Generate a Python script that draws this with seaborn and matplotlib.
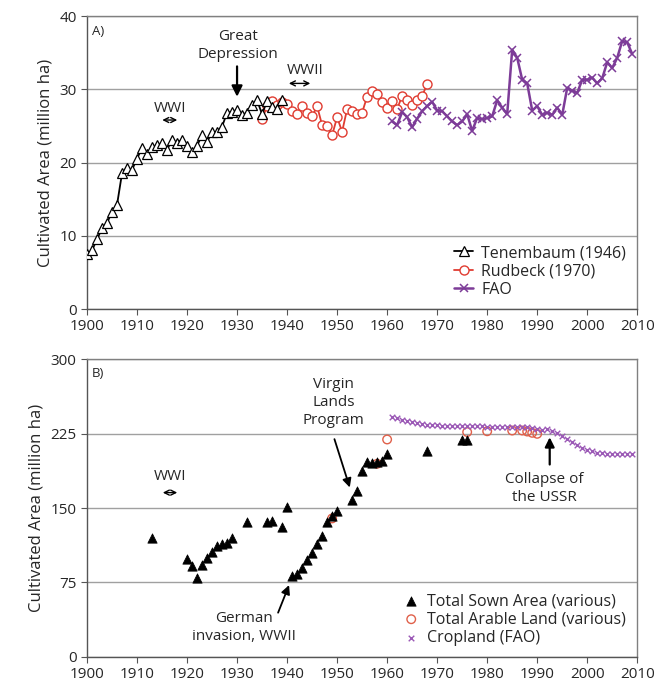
import numpy as np
import pandas as pd
import matplotlib
matplotlib.use("Agg")
import matplotlib.pyplot as plt
import seaborn as sns

# ---- Panel A data ----
ten_years = list(range(1900, 1940))
ten_vals = [7.5, 8.0, 9.5, 11.0, 11.7, 13.3, 14.2, 18.5, 19.3, 19.0,
            20.5, 22.0, 21.2, 22.1, 22.4, 22.6, 21.7, 23.1, 22.7, 23.1,
            22.3, 21.4, 22.3, 23.7, 22.8, 24.1, 24.2, 24.9, 26.8, 26.9,
            27.2, 26.5, 26.8, 27.8, 28.5, 26.6, 28.4, 27.6, 27.3, 28.6]

rud_years = list(range(1935, 1969))
rud_vals = [25.9, 27.7, 28.4, 27.8, 28.3, 28.0, 27.1, 26.6, 27.7, 26.8,
            26.3, 27.7, 25.1, 25.0, 23.7, 26.2, 24.2, 27.3, 27.1, 26.6,
            26.8, 29.0, 29.7, 29.3, 28.2, 27.5, 28.4, 27.3, 29.1, 28.6,
            27.8, 28.6, 29.1, 30.7]

fao_years = list(range(1961, 2010))
fao_vals = [25.6, 25.1, 26.9, 26.2, 24.8, 26.0, 27.0, 27.7, 28.3, 27.1,
            27.0, 26.3, 25.6, 25.1, 25.6, 26.6, 24.3, 26.1, 25.9, 26.1,
            26.3, 28.5, 27.5, 26.6, 35.4, 34.3, 31.3, 30.8, 27.1, 27.7,
            26.5, 26.8, 26.5, 27.5, 26.5, 30.2, 29.8, 29.5, 31.3, 31.3,
            31.6, 30.8, 31.5, 33.7, 32.9, 34.3, 36.6, 36.4, 34.8]

# ---- Panel B data ----
sown_years = [1913, 1920, 1921, 1922, 1923, 1924, 1925, 1926, 1927, 1928,
              1929, 1932, 1936, 1937, 1939, 1940, 1941, 1942, 1943, 1944,
              1945, 1946, 1947, 1948, 1949, 1950, 1953, 1954, 1955, 1956,
              1957, 1958, 1959, 1960, 1968, 1975, 1976]
sown_vals = [119.4, 98.5, 91.2, 79.1, 92.8, 99.2, 105.9, 112.0, 113.7, 114.4,
             119.4, 135.6, 135.6, 136.6, 131.1, 151.3, 81.4, 83.8, 89.9, 97.3,
             105.1, 113.6, 121.4, 135.6, 141.6, 147.3, 158.4, 167.5, 187.4, 196.1,
             195.4, 196.8, 197.1, 204.5, 207.8, 218.9, 218.9]

arable_years = [1949, 1958, 1960, 1976, 1980, 1985, 1987, 1988, 1989, 1990]
arable_vals = [139.5, 194.5, 219.0, 226.5, 227.3, 228.0, 228.0, 227.0, 225.7, 224.7]

crop_years = list(range(1961, 2010))
crop_vals = [241.5, 240.8, 238.8, 237.8, 236.5, 235.5, 234.5, 234.0, 233.5, 233.2,
             233.0, 233.0, 232.8, 232.8, 232.5, 232.5, 232.3, 232.3, 232.2, 232.0,
             232.0, 232.0, 232.0, 232.0, 232.0, 232.0, 232.0, 231.5, 230.5, 229.5,
             229.0, 229.5, 227.5, 225.5, 222.5, 219.5, 216.0, 213.0, 210.5, 208.5,
             207.0, 205.8, 205.0, 204.5, 204.3, 204.0, 204.0, 204.0, 204.0]

x_ticks = list(range(1900, 2011, 10))

sns.set_theme(style="white")
plt.rcParams['font.family'] = ['Open Sans', 'DejaVu Sans']

RED = '#e03c31'
PURPLE = '#7d3c98'
GRID = '#a0a0a0'

fig = plt.figure(figsize=(6.67, 6.87), dpi=100)
ax1 = fig.add_axes([0.1304, 0.5502, 0.825, 0.4265])
ax2 = fig.add_axes([0.1304, 0.0437, 0.825, 0.4337])

# ==========================
# Panel A
# ==========================
sns.lineplot(x=ten_years, y=ten_vals, ax=ax1, color='black', lw=1.3,
             marker='^', markersize=7, markerfacecolor='white',
             markeredgecolor='black', markeredgewidth=0.9,
             label='Tenembaum (1946)', zorder=3)
sns.lineplot(x=rud_years, y=rud_vals, ax=ax1, color=RED, lw=1.3,
             marker='o', markersize=6.5, markerfacecolor='white',
             markeredgecolor=RED, markeredgewidth=1.0,
             label='Rudbeck (1970)', zorder=2)
sns.lineplot(x=fao_years, y=fao_vals, ax=ax1, color=PURPLE, lw=1.8,
             marker='x', markersize=6, markeredgecolor=PURPLE,
             markeredgewidth=1.1, label='FAO', zorder=2)

ax1.set_xlim(1900, 2010)
ax1.set_ylim(0, 40)
ax1.set_yticks([0, 10, 20, 30, 40])
ax1.set_xticks(x_ticks)
ax1.set_ylabel("Cultivated Area (million ha)", fontsize=12)
ax1.set_xlabel("")

ax1.text(1901, 38.8, "A)", fontsize=9.5, va='top')
ax1.text(1930.2, 36.0, "Great\nDepression", ha='center', va='center',
         fontsize=11, linespacing=1.3)
ax1.annotate("", xy=(1930, 28.6), xytext=(1930, 33.5),
             arrowprops=dict(arrowstyle='-|>', color='black', lw=1.6,
                             mutation_scale=16))
ax1.text(1916.6, 27.4, "WWI", ha='center', va='center', fontsize=11)
ax1.annotate("", xy=(1914.5, 25.8), xytext=(1918.6, 25.8),
             arrowprops=dict(arrowstyle='<->', color='black', lw=1.0,
                             mutation_scale=9))
ax1.text(1943.7, 32.6, "WWII", ha='center', va='center', fontsize=11)
ax1.annotate("", xy=(1939.8, 30.8), xytext=(1945.2, 30.8),
             arrowprops=dict(arrowstyle='<->', color='black', lw=1.0,
                             mutation_scale=9))

ax1.legend(loc='lower right', frameon=False, fontsize=11.5,
           handlelength=1.2, handletextpad=0.5, borderaxespad=0.3,
           labelspacing=0.15)

# ==========================
# Panel B
# ==========================
sns.scatterplot(x=sown_years, y=sown_vals, ax=ax2, marker='^', s=45,
                color='black', edgecolor='black',
                label='Total Sown Area (various)', zorder=3)
sns.scatterplot(x=arable_years, y=arable_vals, ax=ax2, marker='o', s=38,
                facecolor='none', edgecolor='#e0604a', linewidth=1.0,
                label='Total Arable Land (various)', zorder=2)
sns.scatterplot(x=crop_years, y=crop_vals, ax=ax2, marker='x', s=16,
                color='#9b59b6', linewidth=1.0,
                label='Cropland (FAO)', zorder=2)

ax2.set_xlim(1900, 2010)
ax2.set_ylim(0, 300)
ax2.set_yticks([0, 75, 150, 225, 300])
ax2.set_xticks(x_ticks)
ax2.set_ylabel("Cultivated Area (million ha)", fontsize=12)
ax2.set_xlabel("")

ax2.text(1901, 292, "B)", fontsize=9.5, va='top')
ax2.text(1916.6, 182, "WWI", ha='center', va='center', fontsize=11)
ax2.annotate("", xy=(1914.6, 165.5), xytext=(1918.6, 165.5),
             arrowprops=dict(arrowstyle='<->', color='black', lw=1.0,
                             mutation_scale=9))
ax2.text(1949.3, 256, "Virgin\nLands\nProgram", ha='center', va='center',
         fontsize=11, linespacing=1.25)
ax2.annotate("", xy=(1952.7, 168), xytext=(1949.3, 222),
             arrowprops=dict(arrowstyle='-|>', color='black', lw=1.3,
                             mutation_scale=13))
ax2.text(1931.4, 30, "German\ninvasion, WWII", ha='center', va='center',
         fontsize=11, linespacing=1.25)
ax2.annotate("", xy=(1940.6, 75), xytext=(1938.0, 42),
             arrowprops=dict(arrowstyle='-|>', color='black', lw=1.3,
                             mutation_scale=13))
ax2.text(1991.4, 170, "Collapse of\nthe USSR", ha='center', va='center',
         fontsize=11, linespacing=1.25)
ax2.annotate("", xy=(1992.5, 224), xytext=(1992.5, 191),
             arrowprops=dict(arrowstyle='-|>', color='black', lw=1.6,
                             mutation_scale=14))

ax2.legend(loc='lower right', frameon=False, fontsize=11.5,
           handlelength=1.0, handletextpad=0.5, borderaxespad=0.3,
           labelspacing=0.15)

for ax in (ax1, ax2):
    ax.grid(axis='y', color=GRID, lw=1.0)
    ax.grid(axis='x', visible=False)
    ax.set_axisbelow(True)
    for side in ('top', 'right'):
        ax.spines[side].set_color('#808080')
        ax.spines[side].set_linewidth(1.0)
    for side in ('left', 'bottom'):
        ax.spines[side].set_color('#555555')
        ax.spines[side].set_linewidth(1.0)
    ax.tick_params(axis='both', labelsize=11, length=4, width=0.8,
                   color='#555555', bottom=True, left=True, direction='out')

plt.savefig("out.png", dpi=100)
